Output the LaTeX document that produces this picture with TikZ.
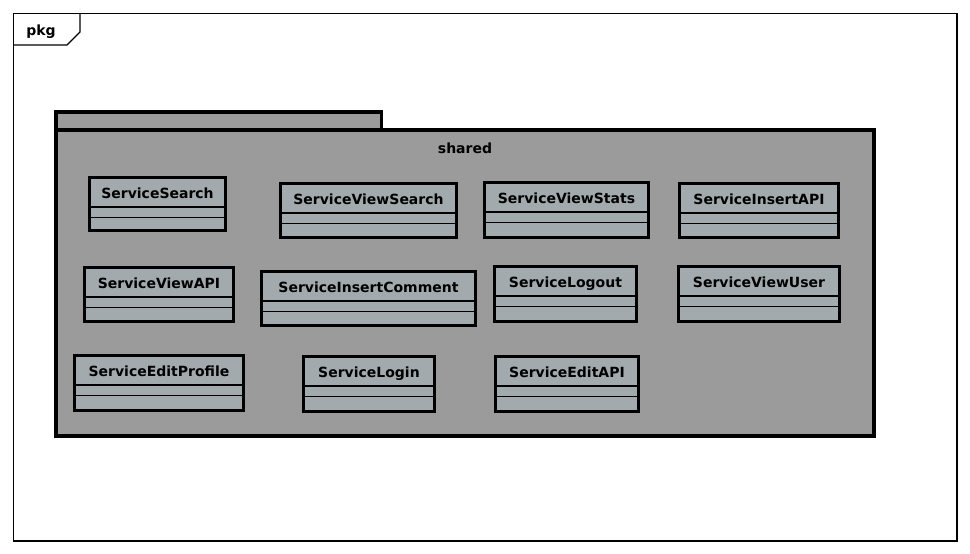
\documentclass[tikz,border=0pt]{standalone}
\usepackage{fontspec}
\setmainfont{DejaVu Sans}
\usetikzlibrary{calc}
\definecolor{pkgfill}{HTML}{9B9B9B}
\definecolor{clsfill}{HTML}{A2AAAD}
\tikzset{
  frameline/.style={draw=black, line width=1.3pt},
  pkgline/.style={draw=black, line width=3.5pt, fill=pkgfill},
  clsbox/.style={draw=black, line width=3pt, fill=clsfill, inner sep=0pt, outer sep=0pt, rectangle},
  clsline/.style={draw=black, line width=1.4pt},
  lbl/.style={font=\bfseries\fontsize{14}{16}\selectfont, inner sep=0pt, anchor=base},
}
\newcommand{\umlcls}[6]{%
  \node[clsbox, anchor=north west, minimum width={#4-#2-3}, minimum height={#5-#3-3}] (#1) at (#2+1.5,#3+1.5) {};
  \node[lbl] (#1-name) at ($(#1.north)+(0,20.8)$) {#6};
  \draw[clsline] ($(#1.north west)+(0,29.5)$) -- ($(#1.north east)+(0,29.5)$);
  \draw[clsline] ($(#1.north west)+(0,39.8)$) -- ($(#1.north east)+(0,39.8)$);
}
\begin{document}
\begin{tikzpicture}[x=1pt,y=-1pt]
\useasboundingbox (0,0) rectangle (970,554);
% outer frame
\draw[frameline] (13.5,13.5) rectangle (957,541);
\coordinate (tabA) at (13.5,45);
\coordinate (tabB) at (67,45);
\coordinate (tabC) at (80,32);
\coordinate (tabD) at (80,13.5);
\draw[frameline] (tabA) -- (tabB) -- (tabC) -- (tabD);
\node[lbl] (pkglabel) at (41,35.5) {pkg};
% package
\draw[pkgline] (55.75,111.75) rectangle (381.25,130);
\draw[pkgline] (55.75,130) rectangle (873.75,435.75);
\node[lbl] (shared) at (465,153) {shared};
% classes
\umlcls{search}{88}{176}{227}{232}{ServiceSearch}
\umlcls{viewsearch}{279}{182}{458}{239}{ServiceViewSearch}
\umlcls{viewstats}{483}{181}{650}{239}{ServiceViewStats}
\umlcls{insertapi}{678}{182}{840}{239}{ServiceInsertAPI}
\umlcls{viewapi}{83}{266}{235}{323}{ServiceViewAPI}
\umlcls{insertcomment}{260}{270}{477}{327}{ServiceInsertComment}
\umlcls{logout}{493}{265}{638}{323}{ServiceLogout}
\umlcls{viewuser}{677}{265}{841}{323}{ServiceViewUser}
\umlcls{editprofile}{73}{354}{245}{412}{ServiceEditProfile}
\umlcls{login}{302}{355}{436}{413}{ServiceLogin}
\umlcls{editapi}{494}{355}{640}{413}{ServiceEditAPI}
\end{tikzpicture}
\end{document}
